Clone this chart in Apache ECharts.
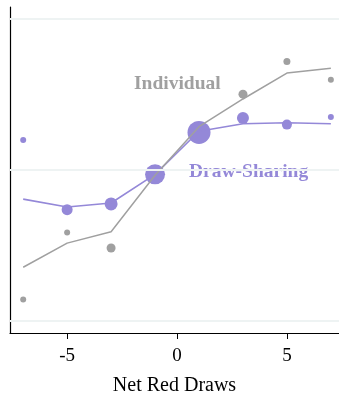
<!DOCTYPE html>
<html><head><meta charset="utf-8">
<script src="https://cdn.jsdelivr.net/npm/echarts@6/dist/echarts.min.js"></script>
<style>html,body{margin:0;padding:0;background:#fff}#c{width:339px;height:401px}</style>
</head><body><div id="c"></div>
<script>
const xs = [-7, -5, -3, -1, 1, 3, 5, 7];
const xTicks = [-5, 0, 5];
const gridValues = [0, 0.5, 1];
const sharingDots = [0.599, 0.368, 0.387, 0.485, 0.624, 0.672, 0.650, 0.675];
const sharingDotSizes = [6, 11, 13, 20, 23, 12, 10, 6];
const sharingLine = [0.403, 0.377, 0.390, 0.485, 0.628, 0.653, 0.656, 0.653];
const indivDots = [0.070, 0.292, 0.241, 0.48, 0.63, 0.751, 0.859, 0.799];
const indivDotSizes = [6, 6, 9, 10, 10, 9, 7, 6];
const indivLine = [0.177, 0.257, 0.295, 0.482, 0.643, 0.735, 0.821, 0.837];

const gray = '#a0a0a0';
const purple = '#9488d8';
const serif = '"Liberation Serif", "DejaVu Serif", serif';
const pairs = (ys) => xs.map((x, i) => [x, ys[i]]);

const chart = echarts.init(document.getElementById('c'));
chart.setOption({
  animation: false,
  grid: { left: 10, right: 0, top: 7, bottom: 53 },
  xAxis: {
    type: 'value', min: -7.6, max: 7.37,
    name: 'Net Red Draws', nameLocation: 'middle', nameGap: 43,
    nameTextStyle: { fontFamily: serif, fontSize: 20, color: '#000' },
    axisLine: { show: true, onZero: false, lineStyle: { color: '#000', width: 1.2 } },
    axisTick: { show: true, length: 6, customValues: xTicks, lineStyle: { color: '#000' } },
    axisLabel: { customValues: xTicks, fontFamily: serif, fontSize: 19, color: '#000', margin: 14 },
    splitLine: { show: false }
  },
  yAxis: {
    type: 'value', min: -0.041, max: 1.040,
    axisLine: { show: true, onZero: false, lineStyle: { color: '#000', width: 1.2 } },
    axisTick: { show: false }, axisLabel: { show: false }, splitLine: { show: false }
  },
  series: [
    {
      type: 'line', data: [], silent: true,
      markLine: { silent: true, symbol: 'none', label: { show: false },
        lineStyle: { color: '#eef3f3', width: 2, type: 'solid' },
        data: gridValues.map(v => ({ yAxis: v })) }
    },
    { type: 'scatter', data: pairs(indivDots), symbolSize: (v, p) => indivDotSizes[p.dataIndex],
      itemStyle: { color: gray, opacity: 1 } },
    { type: 'line', data: pairs(sharingLine), showSymbol: false, lineStyle: { color: purple, width: 1.6 } },
    { type: 'scatter', data: pairs(sharingDots), symbolSize: (v, p) => sharingDotSizes[p.dataIndex],
      itemStyle: { color: purple, opacity: 1 } },
    { type: 'line', data: pairs(indivLine), showSymbol: false, lineStyle: { color: gray, width: 1.5 } }
  ],
  graphic: [
    { type: 'text', left: 134, top: 74, style: { text: 'Individual', fill: gray, font: 'bold 19.5px ' + serif } },
    { type: 'text', left: 189, top: 162, style: { text: 'Draw-Sharing', fill: purple, font: 'bold 19.5px ' + serif } }
  ]
});
</script></body></html>
